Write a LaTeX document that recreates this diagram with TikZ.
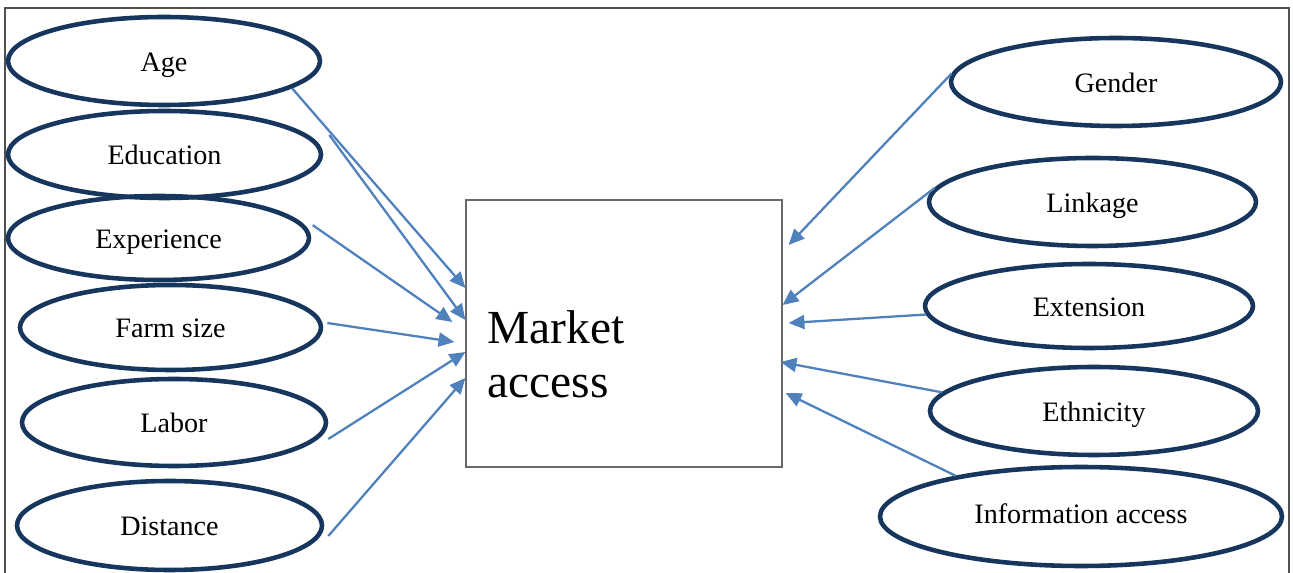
\documentclass[tikz,border=0pt]{standalone}
\usepackage{fontspec}
\setmainfont{Liberation Serif}
\usetikzlibrary{shapes.geometric,arrows.meta}
\definecolor{ovalnavy}{RGB}{23,54,93}
\definecolor{linkblue}{RGB}{79,129,189}
\definecolor{boxgray}{RGB}{105,105,105}
\definecolor{framegray}{RGB}{80,80,80}

\begin{document}
\begin{tikzpicture}[
    factor/.style={ellipse, draw=ovalnavy, line width=2.6pt, inner sep=0pt, text height=11.4pt, text depth=0pt, font=\fontsize{16}{19}\selectfont},
    outcome/.style={rectangle, draw=boxgray, line width=0.7pt, minimum width=6.32cm, minimum height=5.34cm, inner sep=0pt},
    link/.style={draw=linkblue, line width=1.3pt, -{Triangle[length=9pt, width=8pt]}}
]

% Page and outer frame (open at the bottom)
\useasboundingbox (0,0) rectangle (25.86,11.46);
\draw[framegray, line width=0.8pt] (0.1,-0.2) -- (0.1,11.3) -- (25.78,11.3) -- (25.78,-0.2);

% 1. CENTRAL BOX
\node[outcome] (market) at (12.48,4.79) {};
\node[anchor=base west, align=left, inner sep=0pt, font=\fontsize{27}{31}\selectfont] (markettext) at (9.74,3.50) {Market\\access};

% 2. LEFT FACTORS
\node[factor, minimum width=6.24cm, minimum height=1.76cm] (age) at (3.28,10.24) {Age};
\node[factor, minimum width=6.26cm, minimum height=1.74cm] (education) at (3.29,8.37) {Education};
\node[factor, minimum width=6.02cm, minimum height=1.68cm] (experience) at (3.17,6.70) {Experience};
\node[factor, minimum width=6.02cm, minimum height=1.70cm] (farmsize) at (3.41,4.91) {Farm size};
\node[factor, minimum width=6.08cm, minimum height=1.74cm] (labor) at (3.48,3.01) {Labor};
\node[factor, minimum width=6.10cm, minimum height=1.78cm] (distance) at (3.39,0.95) {Distance};

% 3. RIGHT FACTORS
\node[factor, minimum width=6.60cm, minimum height=1.76cm] (gender) at (22.32,9.82) {Gender};
\node[factor, minimum width=6.54cm, minimum height=1.76cm] (linkage) at (21.85,7.42) {Linkage};
\node[factor, minimum width=6.56cm, minimum height=1.68cm] (extension) at (21.78,5.34) {Extension};
\node[factor, minimum width=6.56cm, minimum height=1.76cm] (ethnicity) at (21.88,3.24) {Ethnicity};
\node[factor, minimum width=8.04cm, minimum height=1.98cm, text height=8pt] (info) at (21.62,1.13) {Information access};

% 4. ARROWS INTO THE BOX
\draw[link] (age.-12) -- ([yshift=0.91cm]market.west);
\draw[link] ([shift={(0.12,0.39)}]education.east) -- ([yshift=0.27cm]market.west);
\draw[link] ([xshift=0.16cm]experience.5) -- ([shift={(-0.26,0.23)}]market.west);
\draw[link] ([shift={(0.08,0.09)}]farmsize.east) -- ([shift={(-0.22,-0.17)}]market.west);
\draw[link] ([yshift=-0.33cm]labor.east) -- ([yshift=-0.37cm]market.west);
\draw[link] ([shift={(0.08,-0.21)}]distance.east) -- ([yshift=-0.89cm]market.west);

\draw[link] (gender.177) -- ([shift={(0.12,1.77)}]market.east);
\draw[link] (linkage.175) -- ([yshift=0.57cm]market.east);
\draw[link] (extension.183) -- ([shift={(0.12,0.21)}]market.east);
\draw[link] (ethnicity.173) -- ([shift={(-0.04,-0.57)}]market.east);
\draw[link] (info.162) -- ([shift={(0.06,-1.19)}]market.east);

\end{tikzpicture}
\end{document}
